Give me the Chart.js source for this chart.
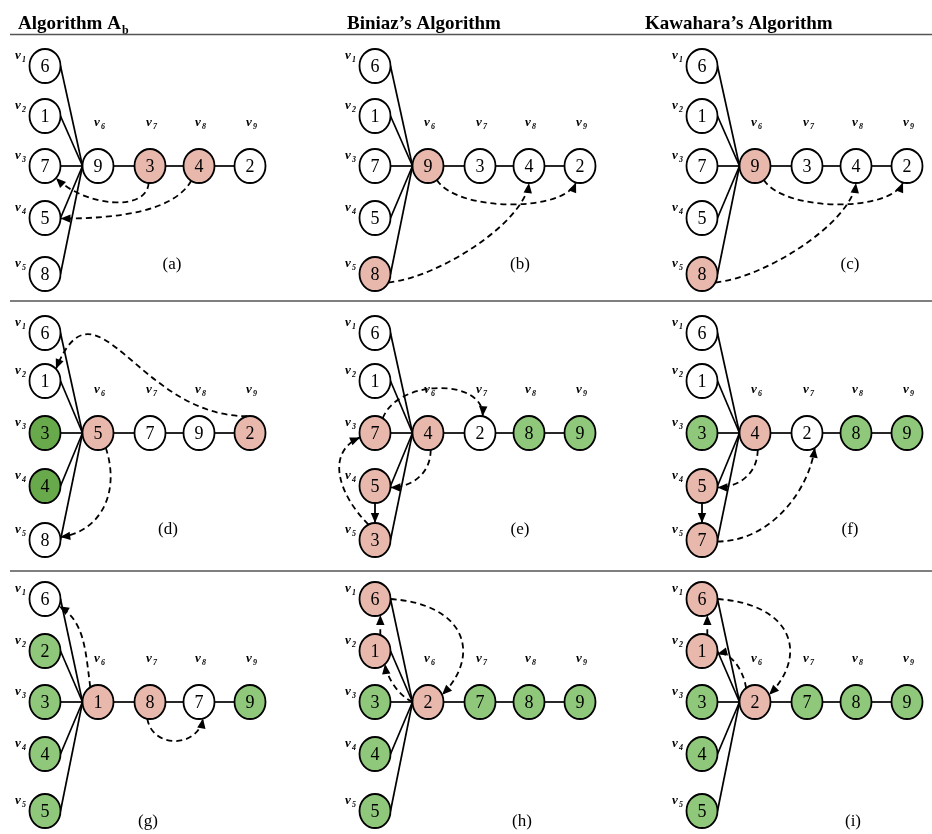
<!DOCTYPE html>
<html>
<head>
<meta charset="utf-8">
<script src="https://cdn.jsdelivr.net/npm/chart.js@4.4.1/dist/chart.umd.min.js"></script>
<style>
  body { margin: 0; background: #fff; }
  #wrap { width: 932px; height: 834px; }
</style>
</head>
<body>
<div id="wrap"><canvas id="graphChart" width="932" height="834"></canvas></div>
<script>
// column titles and panel captions
const titles = ["Algorithm A", "Biniaz\u2019s Algorithm", "Kawahara\u2019s Algorithm"];
const titleSub = ["b", "", ""];
const captions = ["(a)", "(b)", "(c)", "(d)", "(e)", "(f)", "(g)", "(h)", "(i)"];
const vertexIdx = ["1", "2", "3", "4", "5", "6", "7", "8", "9"];

// numbers written in v1..v9 for each panel
const valsA = [6, 1, 7, 5, 8, 9, 3, 4, 2];
const valsB = [6, 1, 7, 5, 8, 9, 3, 4, 2];
const valsC = [6, 1, 7, 5, 8, 9, 3, 4, 2];
const valsD = [6, 1, 3, 4, 8, 5, 7, 9, 2];
const valsE = [6, 1, 7, 5, 3, 4, 2, 8, 9];
const valsF = [6, 1, 3, 5, 7, 4, 2, 8, 9];
const valsG = [6, 2, 3, 4, 5, 1, 8, 7, 9];
const valsH = [6, 1, 3, 4, 5, 2, 7, 8, 9];
const valsI = [6, 1, 3, 4, 5, 2, 7, 8, 9];

// node state: w = white, p = pink, g = green, G = dark green
const fillA = ["w", "w", "w", "w", "w", "w", "p", "p", "w"];
const fillB = ["w", "w", "w", "w", "p", "p", "w", "w", "w"];
const fillC = ["w", "w", "w", "w", "p", "p", "w", "w", "w"];
const fillD = ["w", "w", "G", "G", "w", "p", "w", "w", "p"];
const fillE = ["w", "w", "p", "p", "p", "p", "w", "g", "g"];
const fillF = ["w", "w", "g", "p", "p", "p", "w", "g", "g"];
const fillG = ["w", "g", "g", "g", "g", "p", "p", "w", "g"];
const fillH = ["p", "p", "g", "g", "g", "p", "g", "g", "g"];
const fillI = ["p", "p", "g", "g", "g", "p", "g", "g", "g"];

// token moves (from vertex, to vertex), 0-based
const movesA = [[6, 2], [7, 3]];
const movesB = [[5, 8], [4, 7]];
const movesC = [[5, 8], [4, 7]];
const movesD = [[8, 1], [5, 4]];
const movesE = [[2, 6], [5, 3], [4, 2], [3, 4]];
const movesF = [[5, 3], [3, 4], [4, 6]];
const movesG = [[5, 0], [6, 7]];
const movesH = [[0, 5], [5, 1], [1, 0]];
const movesI = [[0, 5], [5, 1], [1, 0]];

const panelVals = [valsA, valsB, valsC, valsD, valsE, valsF, valsG, valsH, valsI];
const panelFill = [fillA, fillB, fillC, fillD, fillE, fillF, fillG, fillH, fillI];
const panelMoves = [movesA, movesB, movesC, movesD, movesE, movesF, movesG, movesH, movesI];

// ---- layout / style ----
const colX = [45, 375, 702];
const rowY = [[66, 116, 166, 218, 274], [333, 381, 433, 486, 540], [599, 651, 702, 754, 811]];
const pathDX = [53, 105, 154, 205];
const titleX = [18, 347, 645];
const ruleY = [34.5, 301, 571];
const captionX = [[172, 520, 850], [168, 520, 850], [148, 522, 853]];
const captionY = [265, 530, 822];
const RX = 15.5, RY = 17;
const colors = { w: "#ffffff", p: "#e8b8ad", g: "#8fc87b", G: "#68a94c" };

// curve shape of each move: [fromAngle, toAngle, dx1, dy1, dx2, dy2, solid]
const moveShape = [
    [[95, 45, -2, 30, 28, 28], [120, 2, -17, 30, 60, 0]],
    [[55, 105, 20, 32, -12, 30], [30, 90, 50, -5, -5, 40]],
    [[55, 105, 20, 32, -12, 30], [30, 90, 50, -5, -5, 40]],
    [[-100, -45, -110, 0, 40, -100], [60, -10, 15, 45, 40, -5]],
    [[-60, -80, 15, -40, 2, -38], [80, 5, 0, 25, 20, 0], [-115, 165, -30, -30, -35, 15], [90, -90, 0, 0, 0, 0, true]],
    [[80, 5, 0, 25, 20, 0], [90, -90, 0, 0, 0, 0, true], [5, 60, 55, 0, -5, 40]],
    [[-120, 25, -5, -40, 25, 15], [100, 75, 5, 30, -5, 30]],
    [[0, -25, 75, 5, 40, -40], [180, 50, -12, -5, 2, 15], [-70, 70, 0, 0, 0, 0]],
    [[0, -25, 75, 5, 40, -40], [-125, 10, -3, -20, 12, -3], [-70, 70, 0, 0, 0, 0]]
];

function nodePos(p, i) {
    const c = p % 3, r = Math.floor(p / 3);
    if (i < 5) return { x: colX[c], y: rowY[r][i] };
    return { x: colX[c] + pathDX[i - 5], y: rowY[r][2] };
}

function rim(pt, deg) {
    const a = deg * Math.PI / 180;
    return { x: pt.x + RX * Math.cos(a), y: pt.y + RY * Math.sin(a) };
}

// node images used as point styles
const nodeImg = {};
for (const k in colors) {
    const c = document.createElement("canvas");
    c.width = 36; c.height = 40;
    const g = c.getContext("2d");
    g.beginPath();
    g.ellipse(18, 20, RX, RY, 0, 0, Math.PI * 2);
    g.fillStyle = colors[k];
    g.fill();
    g.lineWidth = 1.8;
    g.strokeStyle = "#000";
    g.stroke();
    nodeImg[k] = c;
}

const datasets = [];
for (let p = 0; p < 9; p++) {
    const fill = panelFill[p];
    datasets.push({
        type: "scatter",
        data: panelVals[p].map((v, i) => nodePos(p, i)),
        pointStyle: ctx => nodeImg[fill[ctx.dataIndex]],
        pointRadius: 16,
        order: 1
    });
    const hub = nodePos(p, 5);
    for (let i = 0; i < 5; i++) {
        const a = nodePos(p, i);
        datasets.push({
            type: "scatter", showLine: true, pointRadius: 0,
            borderColor: "#000", borderWidth: 1.7, order: 2,
            data: [{ x: a.x + RX, y: a.y }, { x: hub.x - RX, y: hub.y }]
        });
    }
    for (let i = 5; i < 8; i++) {
        const a = nodePos(p, i), b = nodePos(p, i + 1);
        datasets.push({
            type: "scatter", showLine: true, pointRadius: 0,
            borderColor: "#000", borderWidth: 1.7, order: 2,
            data: [{ x: a.x + RX, y: a.y }, { x: b.x - RX, y: b.y }]
        });
    }
}

const textPlugin = {
    id: "textPlugin",
    afterDatasetsDraw(chart) {
        const ctx = chart.ctx;
        const sx = v => chart.scales.x.getPixelForValue(v);
        const sy = v => chart.scales.y.getPixelForValue(v);
        ctx.save();

        // headers and rules
        ctx.fillStyle = "#000";
        ctx.textBaseline = "alphabetic";
        ctx.textAlign = "left";
        for (let c = 0; c < 3; c++) {
            ctx.font = "bold 19px 'Liberation Serif'";
            ctx.fillText(titles[c], titleX[c], 29);
            if (titleSub[c]) {
                const w = ctx.measureText(titles[c]).width;
                ctx.font = "bold 12px 'Liberation Serif'";
                ctx.fillText(titleSub[c], titleX[c] + w + 1, 34);
            }
        }
        ctx.strokeStyle = "#555";
        ctx.lineWidth = 1.5;
        ruleY.forEach(y => {
            ctx.beginPath();
            ctx.moveTo(10, y);
            ctx.lineTo(932, y);
            ctx.stroke();
        });

        for (let p = 0; p < 9; p++) {
            const r = Math.floor(p / 3), c = p % 3;

            // moves (dashed curves with arrow heads)
            panelMoves[p].forEach((m, k) => {
                const s = moveShape[p][k];
                const a = rim(nodePos(p, m[0]), s[0]);
                const b = rim(nodePos(p, m[1]), s[1]);
                const c1 = { x: a.x + s[2], y: a.y + s[3] };
                const c2 = { x: b.x + s[4], y: b.y + s[5] };
                ctx.beginPath();
                ctx.setLineDash(s[6] ? [] : [6, 4]);
                ctx.lineWidth = 1.8;
                ctx.strokeStyle = "#000";
                ctx.moveTo(sx(a.x), sy(a.y));
                ctx.bezierCurveTo(sx(c1.x), sy(c1.y), sx(c2.x), sy(c2.y), sx(b.x), sy(b.y));
                ctx.stroke();
                ctx.setLineDash([]);
                let from = c2;
                if (Math.abs(c2.x - b.x) + Math.abs(c2.y - b.y) < 1) from = c1;
                if (Math.abs(from.x - b.x) + Math.abs(from.y - b.y) < 1) from = a;
                const ang = Math.atan2(sy(b.y) - sy(from.y), sx(b.x) - sx(from.x));
                const hl = 10, hw = 4.2;
                const tx = sx(b.x), ty = sy(b.y);
                ctx.beginPath();
                ctx.moveTo(tx, ty);
                ctx.lineTo(tx - hl * Math.cos(ang) + hw * Math.sin(ang), ty - hl * Math.sin(ang) - hw * Math.cos(ang));
                ctx.lineTo(tx - hl * Math.cos(ang) - hw * Math.sin(ang), ty - hl * Math.sin(ang) + hw * Math.cos(ang));
                ctx.closePath();
                ctx.fillStyle = "#000";
                ctx.fill();
            });

            // numbers in nodes
            ctx.fillStyle = "#000";
            ctx.font = "18px 'Liberation Serif'";
            ctx.textAlign = "center";
            ctx.textBaseline = "middle";
            panelVals[p].forEach((v, i) => {
                const q = nodePos(p, i);
                ctx.fillText(String(v), sx(q.x), sy(q.y) + 1);
            });

            // vertex names
            vertexIdx.forEach((n, i) => {
                const q = nodePos(p, i);
                let lx, ly;
                if (i < 5) { lx = q.x - 27; ly = q.y - 7; }
                else { lx = q.x - 1; ly = rowY[r][2] - 40; }
                ctx.textAlign = "center";
                ctx.textBaseline = "alphabetic";
                ctx.font = "italic bold 13px 'Liberation Serif'";
                ctx.fillText("v", sx(lx), sy(ly));
                ctx.font = "italic bold 8px 'Liberation Serif'";
                ctx.fillText(n, sx(lx + 6), sy(ly + 3));
            });

            // caption
            ctx.font = "17px 'Liberation Serif'";
            ctx.textAlign = "center";
            ctx.textBaseline = "middle";
            ctx.fillText(captions[p], sx(captionX[r][c]), sy(captionY[r]));
        }
        ctx.restore();
    }
};

new Chart(document.getElementById("graphChart"), {
    type: "scatter",
    data: { datasets: datasets },
    options: {
        responsive: false,
        animation: false,
        events: [],
        clip: false,
        layout: { padding: 0, autoPadding: false },
        scales: {
            x: { type: "linear", min: 0, max: 932, display: false },
            y: { type: "linear", min: 0, max: 834, reverse: true, display: false }
        },
        plugins: { legend: { display: false }, tooltip: { enabled: false } }
    },
    plugins: [textPlugin]
});
</script>
</body>
</html>
